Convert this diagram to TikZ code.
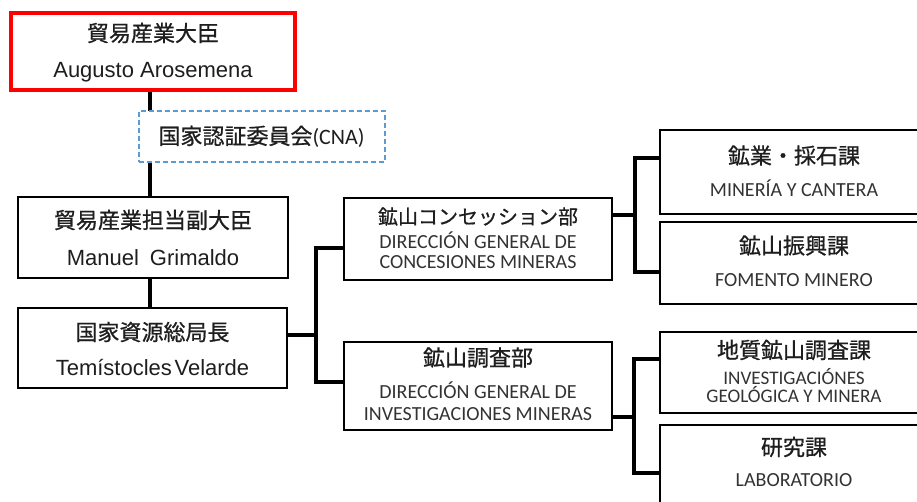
\documentclass[tikz,border=0pt]{standalone}
\usepackage{fontspec}
\setmainfont{Liberation Sans}
\newfontfamily\jpf[FakeBold=0.8]{Noto Sans CJK JP}
\newfontfamily\cbf{Carlito}
\definecolor{txt}{HTML}{1E1E1E}
\definecolor{estxt}{HTML}{333333}
\definecolor{cnablue}{HTML}{5B9BD5}
\begin{document}
\begin{tikzpicture}[x=1pt,y=-1pt,
  box/.style={draw=black,line width=2pt,fill=white,inner sep=0pt,outer sep=0pt},
  redbox/.style={draw=red,line width=3.8pt,fill=white,inner sep=0pt,outer sep=0pt},
  dashbox/.style={draw=cnablue,line width=2pt,dash pattern=on 5pt off 3pt,fill=white,inner sep=0pt,outer sep=0pt},
  conn/.style={line width=4.5pt,draw=black},
  jp/.style={font=\jpf\fontsize{22}{26}\selectfont,text=txt,inner sep=0pt,anchor=center},
  ar/.style={font=\fontsize{22}{26}\selectfont,text=txt,inner sep=0pt,anchor=base},
  es/.style={font=\cbf\fontsize{20}{24}\selectfont,text=estxt,inner sep=0pt,anchor=base,align=center},
  es2/.style={font=\cbf\fontsize{19.2}{18}\selectfont,text=estxt,inner sep=0pt,anchor=base,align=center}]
\useasboundingbox (0,0) rectangle (917,501);
\clip (0,0) rectangle (917,501);
\fill[white] (0,0) rectangle (917,501);

% junction coordinates
\coordinate (j1) at (316,335);
\coordinate (j2) at (635,215);
\coordinate (j3) at (634,417);

% boxes
\node[redbox,minimum width=284pt,minimum height=77pt] (min) at (153,51.5) {};
\node[box,minimum width=270pt,minimum height=81pt] (vice) at (153,237.5) {};
\node[box,minimum width=269pt,minimum height=80pt] (dir) at (152.5,348) {};
\node[box,minimum width=268pt,minimum height=82pt] (conc) at (478,239) {};
\node[box,minimum width=268pt,minimum height=88pt] (inv) at (478,386) {};
\node[box,minimum width=268pt,minimum height=84pt] (ba) at (794,172) {};
\node[box,minimum width=268pt,minimum height=82pt] (bb) at (794,263) {};
\node[box,minimum width=268pt,minimum height=81pt] (bc) at (794,372.5) {};
\node[box,minimum width=268pt,minimum height=82pt] (bd) at (794,466) {};

% connectors
\draw[conn] ([xshift=-3pt]min.south) -- ([xshift=-3pt]vice.north);
\draw[conn] ([xshift=-3pt]vice.south) -- ([xshift=-2.5pt]dir.north);
\draw[conn] (dir.east |- j1) -- (j1);
\draw[conn] (conc.west |- 0,248) -| (j1) |- (inv.west |- 0,382);
\draw[conn] (conc.east |- j2) -- (j2);
\draw[conn] (ba.west |- 0,158) -| (j2) |- (bb.west |- 0,272);
\draw[conn] (inv.east |- j3) -- (j3);
\draw[conn] (bc.west |- 0,359) -| (j3) |- (bd.west |- 0,473);

% redraw box borders over connector ends
\foreach \n in {vice,dir,conc,inv,ba,bb,bc,bd}{
  \draw[line width=2pt] (\n.north west) rectangle (\n.south east);
}
\draw[line width=3.8pt,red] (min.north west) rectangle (min.south east);

% CNA box on top of the line
\node[dashbox,minimum width=246pt,minimum height=51pt] (cna) at (261.5,136) {};

% texts
\node[jp] (minJ) at (153,33) {貿易産業大臣};
\node[ar] (minL) at (153,77) {Augusto Arosemena};
\node[jp] (cnaT) at (261.5,136.5) {国家認証委員会{\cbf (CNA)}};
\node[jp] (viceJ) at (153,220) {貿易産業担当副大臣};
\node[ar] (viceL) at (153,265) {Manuel\hspace{0.5em}Grimaldo};
\node[jp] (dirJ) at (152.5,332) {国家資源総局長};
\node[ar] (dirL) at (152.5,375) {Temístocles\hspace{0.12em}Velarde};

\node[jp,font=\jpf\fontsize{20}{24}\selectfont] (concJ) at (478,216.5) {鉱山コンセッション部};
\node[es,font=\cbf\fontsize{20}{20}\selectfont] (concS) at (478,268.5) {DIRECCIÓN GENERAL DE\\CONCESIONES MINERAS};

\node[jp] (invJ) at (478,357.5) {鉱山調査部};
\node[es,font=\cbf\fontsize{20}{21.5}\selectfont] (invS) at (478,420) {DIRECCIÓN GENERAL DE\\INVESTIGACIONES MINERAS};

\node[jp] (baJ) at (794,155.5) {鉱業・採石課};
\node[es] (baS) at (794,196) {MINERÍA Y CANTERA};

\node[jp] (bbJ) at (794,245.5) {鉱山振興課};
\node[es] (bbS) at (794,286.5) {FOMENTO MINERO};

\node[jp] (bcJ) at (794,350) {地質鉱山調査課};
\node[es2] (bcS) at (794,402.5) {INVESTIGACIÓNES\\GEOLÓGICA Y MINERA};

\node[jp] (bdJ) at (794,447) {研究課};
\node[es] (bdS) at (794,486) {LABORATORIO};
\end{tikzpicture}
\end{document}
